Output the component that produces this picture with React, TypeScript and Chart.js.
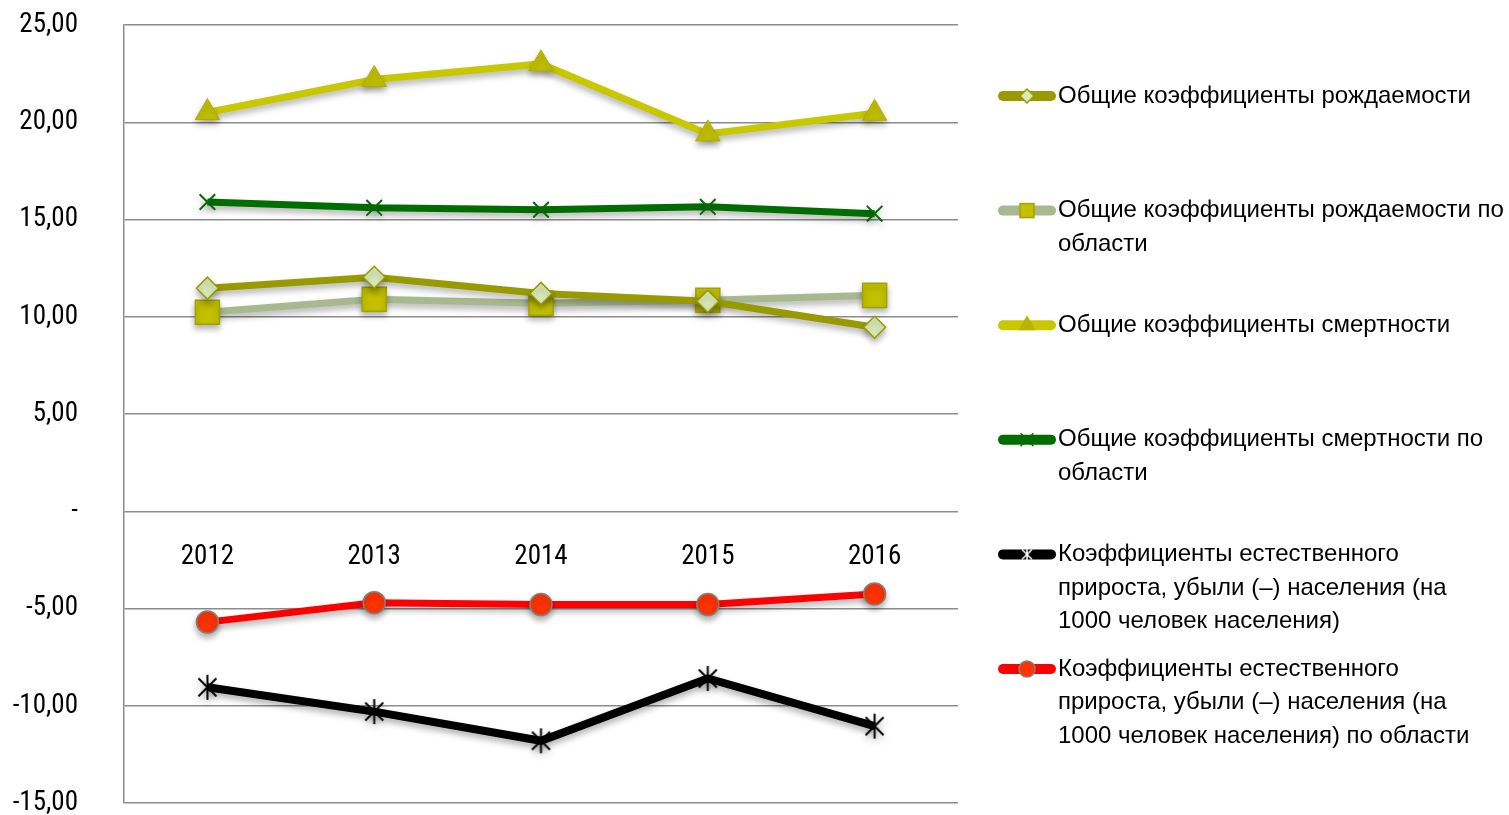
import React, { useEffect, useRef } from 'react';
import { Chart, registerables } from 'chart.js';

Chart.register(...registerables);

const years = ['2012', '2013', '2014', '2015', '2016'];
const birthRate = [11.47, 12.03, 11.2, 10.8, 9.46];
const birthRateRegion = [10.23, 10.9, 10.7, 10.85, 11.1];
const deathRate = [20.5, 22.2, 23.0, 19.4, 20.46];
const deathRateRegion = [15.9, 15.6, 15.5, 15.65, 15.3];
const naturalGrowth = [-9.05, -10.3, -11.8, -8.6, -11.05];
const naturalGrowthRegion = [-5.7, -4.7, -4.8, -4.8, -4.25];

const legendText: string[][] = [
  ['Общие коэффициенты рождаемости'],
  ['Общие коэффициенты рождаемости по', 'области'],
  ['Общие коэффициенты смертности'],
  ['Общие коэффициенты смертности по', 'области'],
  ['Коэффициенты естественного', 'прироста, убыли (–) населения (на', '1000 человек населения)'],
  ['Коэффициенты естественного', 'прироста, убыли (–) населения (на', '1000 человек населения) по области'],
];

const yMin = -15;
const yMax = 25;
const yStep = 5;

const TICK_FONT = '"Liberation Sans Narrow", "Arial Narrow", "Roboto Condensed", "Liberation Sans", sans-serif';
const TEXT_FONT = '"Liberation Sans", Arial, sans-serif';
const LEGEND_SCALE = 1.0;

function scaledText(ctx: CanvasRenderingContext2D, text: string, x: number, y: number, font: string, k: number, align: CanvasTextAlign) {
  ctx.save();
  ctx.font = font;
  ctx.textBaseline = 'middle';
  ctx.textAlign = align;
  ctx.fillStyle = '#000';
  ctx.translate(x, y);
  ctx.scale(k, 1);
  ctx.fillText(text, 0, 0);
  ctx.restore();
}

function makeAsterisk(size: number, lw: number, color: string) {
  const c = document.createElement('canvas');
  c.width = size;
  c.height = size;
  const ctx = c.getContext('2d')!;
  ctx.strokeStyle = color;
  ctx.lineWidth = lw;
  const m = size / 2;
  const r = size / 2 - 1;
  ctx.beginPath();
  ctx.moveTo(m, m - r);
  ctx.lineTo(m, m + r);
  const d = r * 0.72;
  ctx.moveTo(m - d, m - d);
  ctx.lineTo(m + d, m + d);
  ctx.moveTo(m + d, m - d);
  ctx.lineTo(m - d, m + d);
  ctx.stroke();
  return c;
}

const shadowPlugin = {
  id: 'shadowPlugin',
  beforeDatasetsDraw(chart: any) {
    const ctx = chart.ctx;
    ctx.save();
    ctx.shadowColor = 'rgba(0,0,0,0.3)';
    ctx.shadowBlur = 6;
    ctx.shadowOffsetX = 0;
    ctx.shadowOffsetY = 4;
  },
  afterDatasetsDraw(chart: any) {
    chart.ctx.restore();
  },
};

// category labels drawn along the zero line, positioned by the chart's own scales
const zeroAxisLabels = {
  id: 'zeroAxisLabels',
  afterDraw(chart: any) {
    const xs = chart.scales.x;
    const ys = chart.scales.y;
    const y0 = ys.getPixelForValue(0);
    const ctx: CanvasRenderingContext2D = chart.ctx;
    (chart.data.labels as string[]).forEach((lab, i) => {
      scaledText(ctx, lab, xs.getPixelForValue(i), y0 + 46, `27px ${TICK_FONT}`, 1, 'center');
    });
  },
};

function drawLegendMarker(ctx: CanvasRenderingContext2D, i: number, x: number, y: number, star: HTMLCanvasElement) {
  ctx.save();
  switch (i) {
    case 0: {
      const r = 7;
      ctx.beginPath();
      ctx.moveTo(x, y - r);
      ctx.lineTo(x + r, y);
      ctx.lineTo(x, y + r);
      ctx.lineTo(x - r, y);
      ctx.closePath();
      ctx.fillStyle = '#d8e9b8';
      ctx.fill();
      ctx.strokeStyle = '#999900';
      ctx.lineWidth = 1.5;
      ctx.stroke();
      break;
    }
    case 1: {
      const s = 14;
      ctx.fillStyle = '#c4c000';
      ctx.fillRect(x - s / 2, y - s / 2, s, s);
      ctx.strokeStyle = '#a3a300';
      ctx.lineWidth = 1.5;
      ctx.strokeRect(x - s / 2, y - s / 2, s, s);
      break;
    }
    case 2: {
      const r = 10;
      ctx.beginPath();
      ctx.moveTo(x, y - r);
      ctx.lineTo(x + r * 0.866, y + r * 0.5);
      ctx.lineTo(x - r * 0.866, y + r * 0.5);
      ctx.closePath();
      ctx.fillStyle = '#b8b400';
      ctx.fill();
      break;
    }
    case 3: {
      const d = 6;
      ctx.strokeStyle = '#006d00';
      ctx.lineWidth = 1.5;
      ctx.beginPath();
      ctx.moveTo(x - d, y - d);
      ctx.lineTo(x + d, y + d);
      ctx.moveTo(x + d, y - d);
      ctx.lineTo(x - d, y + d);
      ctx.stroke();
      break;
    }
    case 4: {
      ctx.drawImage(star, x - star.width / 2, y - star.height / 2);
      break;
    }
    case 5: {
      ctx.beginPath();
      ctx.arc(x, y, 8, 0, Math.PI * 2);
      ctx.fillStyle = '#ff3300';
      ctx.fill();
      ctx.strokeStyle = '#808080';
      ctx.lineWidth = 1.5;
      ctx.stroke();
      break;
    }
  }
  ctx.restore();
}

function makeLegendPlugin(star: HTMLCanvasElement) {
  return {
    id: 'customLegend',
    afterDraw(chart: any) {
      const ctx: CanvasRenderingContext2D = chart.ctx;
      const top = 96;
      const gap = 114.6;
      const lineH = 33.5;
      const x0 = 1003;
      const x1 = 1051;
      const tx = 1058;
      ctx.save();
      chart.data.datasets.forEach((ds: any, i: number) => {
        const y = top + i * gap;
        ctx.beginPath();
        ctx.moveTo(x0, y);
        ctx.lineTo(x1, y);
        ctx.lineCap = 'round';
        ctx.lineWidth = 10;
        ctx.strokeStyle = ds.borderColor;
        ctx.stroke();
        drawLegendMarker(ctx, i, (x0 + x1) / 2, y, star);
        legendText[i].forEach((t, k) => scaledText(ctx, t, tx, y + k * lineH, `24px ${TEXT_FONT}`, LEGEND_SCALE, 'left'));
      });
      ctx.restore();
    },
  };
}

export default function App() {
  const ref = useRef<HTMLCanvasElement | null>(null);

  useEffect(() => {
    if (!ref.current) return;
    const star = makeAsterisk(27, 2, '#000');
    const starSmall = makeAsterisk(16, 1.5, '#ffffff');
    const chart = new Chart(ref.current, {
      type: 'line',
      data: {
        labels: years,
        datasets: [
          {
            label: legendText[0].join(' '),
            data: birthRate,
            borderColor: '#999900',
            borderWidth: 7,
            pointStyle: 'rectRot',
            pointRadius: 11,
            pointBackgroundColor: '#d8e9b8',
            pointBorderColor: '#999900',
            pointBorderWidth: 1.5,
          },
          {
            label: legendText[1].join(' '),
            data: birthRateRegion,
            borderColor: '#a9b98f',
            borderWidth: 7,
            pointStyle: 'rect',
            pointRadius: 17,
            pointBackgroundColor: '#c4c000',
            pointBorderColor: '#a3a300',
            pointBorderWidth: 1.5,
          },
          {
            label: legendText[2].join(' '),
            data: deathRate,
            borderColor: '#c8c800',
            borderWidth: 7,
            pointStyle: 'triangle',
            pointRadius: 14,
            pointBackgroundColor: '#c0bd00',
            pointBorderColor: '#b0ad00',
            pointBorderWidth: 1,
          },
          {
            label: legendText[3].join(' '),
            data: deathRateRegion,
            borderColor: '#006d00',
            borderWidth: 7,
            pointStyle: 'crossRot',
            pointRadius: 11,
            pointBorderColor: '#006d00',
            pointBorderWidth: 2,
          },
          {
            label: legendText[4].join(' '),
            data: naturalGrowth,
            borderColor: '#000000',
            borderWidth: 8,
            pointStyle: star as any,
            pointRadius: 13,
          },
          {
            label: legendText[5].join(' '),
            data: naturalGrowthRegion,
            borderColor: '#ff0000',
            borderWidth: 7,
            pointStyle: 'circle',
            pointRadius: 11,
            pointBackgroundColor: '#ff3300',
            pointBorderColor: '#808080',
            pointBorderWidth: 1.5,
          },
        ],
      },
      options: {
        animation: false,
        responsive: false,
        maintainAspectRatio: false,
        layout: { padding: { top: 25, right: 551, bottom: 37, left: 0 } },
        elements: { line: { tension: 0 } },
        plugins: {
          legend: { display: false },
          tooltip: { enabled: false },
        },
        scales: {
          x: {
            type: 'category',
            offset: true,
            display: false,
          },
          y: {
            min: yMin,
            max: yMax,
            grid: { color: '#8c8c8c', lineWidth: 1.5, drawTicks: true, tickLength: 46, tickColor: 'rgba(0,0,0,0)' },
            border: { color: '#8c8c8c', width: 1.5 },
            ticks: {
              stepSize: yStep,
              padding: 0,
              color: '#000',
              font: { size: 27, family: TICK_FONT },
              callback: (v: any) => (Number(v) === 0 ? '-' : Number(v).toFixed(2).replace('.', ',')),
            },
            afterFit: (s: any) => {
              s.width = 124;
            },
          },
        },
      },
      plugins: [shadowPlugin, zeroAxisLabels, makeLegendPlugin(starSmall)],
    } as any);
    return () => chart.destroy();
  }, []);

  return (
    <div style={{ position: 'absolute', left: 0, top: 0, width: 1509, height: 815, overflow: 'hidden', background: '#fff' }}>
      <canvas ref={ref} width={1509} height={840} style={{ width: 1509, height: 840, display: 'block' }} />
    </div>
  );
}
